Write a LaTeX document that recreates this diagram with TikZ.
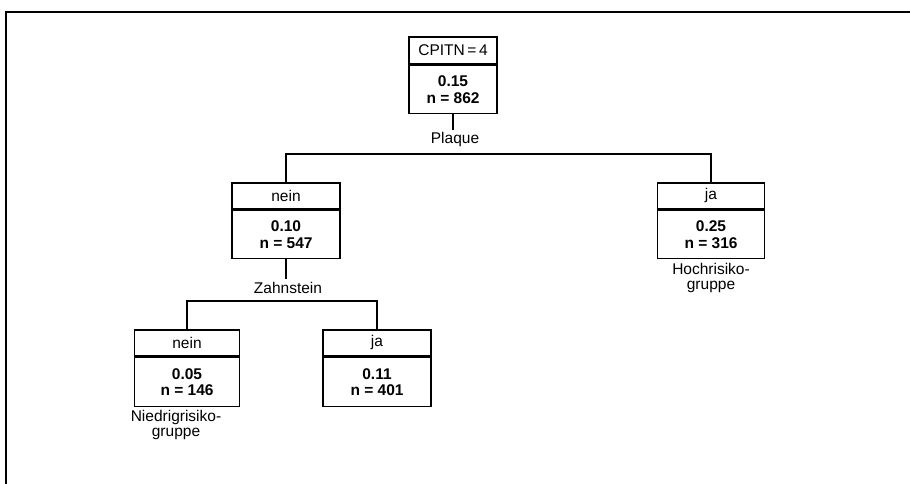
\documentclass[tikz,border=0pt]{standalone}
\usepackage{fontspec}
\setmainfont{Liberation Sans}
\begin{document}
\begin{tikzpicture}[x=1pt,y=-1pt,
  line width=1.7pt,
  headbox/.style={draw, rectangle, inner sep=0pt, font=\fontsize{15.5}{16}\selectfont, minimum height=26pt},
  bodybox/.style={draw, rectangle, inner sep=0pt, align=center, font=\fontsize{15.5}{16.5}\selectfont\bfseries, minimum height=48pt},
  lbl/.style={inner sep=0pt, align=center, font=\fontsize{15.5}{15.5}\selectfont}]
\useasboundingbox (0,0) rectangle (910,484);
% frame
\draw[line width=1.8pt] (6,484) -- (6,12) -- (910,12);
% top node
\node[headbox, minimum width=88pt, minimum height=27pt, anchor=north] (t0h) at (453,36) {CPITN\,=\,4};
\node[bodybox, minimum width=88pt, anchor=north] (t0b) at (t0h.south) {0.15\\n\;=\;862};
\node[lbl] (plq) at (455,139) {Plaque};
% level 1
\node[headbox, minimum width=108pt, anchor=north] (lh) at (286,182) {nein};
\node[bodybox, minimum width=108pt, anchor=north] (lb) at (lh.south) {0.10\\n\;=\;547};
\node[headbox, minimum width=107pt, anchor=north] (rh) at (711,182) {ja};
\node[bodybox, minimum width=107pt, anchor=north] (rb) at (rh.south) {0.25\\n\;=\;316};
\node[lbl] (hoch) at (711,278) {Hochrisiko-\\gruppe};
\node[lbl] (zahn) at (288,288) {Zahnstein};
% level 2
\node[headbox, minimum width=105pt, anchor=north] (llh) at (187,329) {nein};
\node[bodybox, minimum width=105pt, minimum height=49pt, anchor=north] (llb) at (llh.south) {0.05\\n\;=\;146};
\node[lbl] (nied) at (176,425) {Niedrigrisiko-\\gruppe};
\node[headbox, minimum width=108pt, anchor=north] (lrh) at (377,329) {ja};
\node[bodybox, minimum width=108pt, minimum height=49pt, anchor=north] (lrb) at (lrh.south) {0.11\\n\;=\;401};
% connectors
\coordinate (s1) at (453,154);
\coordinate (s2) at (286,301);
\draw (t0b.south) -- ++(0,16);
\draw (lh.north) -- (lh.north |- s1) -- (rh.north |- s1) -- (rh.north);
\draw (lb.south) -- ++(0,20);
\draw (llh.north) -- (llh.north |- s2) -- (lrh.north |- s2) -- (lrh.north);
\end{tikzpicture}
\end{document}
